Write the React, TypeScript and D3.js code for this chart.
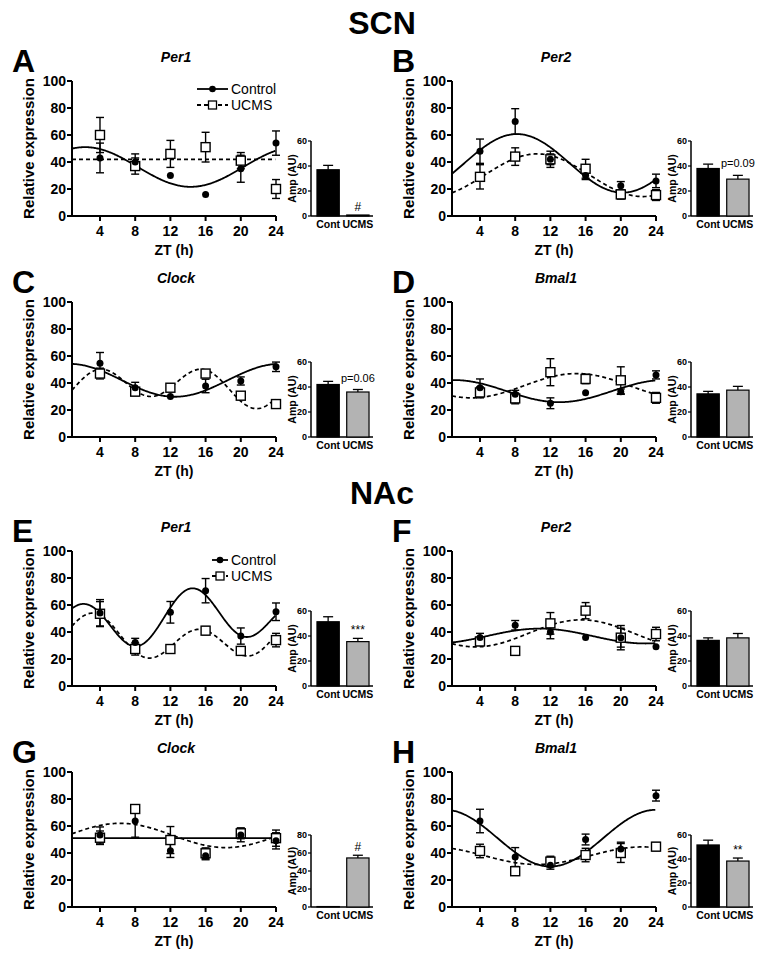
import React from 'react';
import * as d3 from 'd3';

// ---------- data ----------
const ZT = [4, 8, 12, 16, 20, 24];
const X_TICKS = [4, 8, 12, 16, 20, 24];
const Y_TICKS = [0, 20, 40, 60, 80, 100];
const GROUPS = ['Cont', 'UCMS'];
const SECTIONS = ['SCN', 'NAc'];
const LETTERS = ['A', 'B', 'C', 'D', 'E', 'F', 'G', 'H'];
const GENES = ['Per1', 'Per2', 'Clock', 'Bmal1', 'Per1', 'Per2', 'Clock', 'Bmal1'];

// fit params: [mesor, amp24, peak24, amp12, peak12]
const aCtl = [43, 40, 30, 16, 35, 54];
const aCtlErr = [11, 6, 0, 0, 10, 9];
const aUcms = [60, 37, 46, 51, 41, 20];
const aUcmsErr = [13, 6, 10, 11, 6, 7];
const aCtlFit = [36.3, 14.7, 2.3, 0, 0];
const aUcmsFit = [42, 0, 0, 0, 0];
const aAmp = [37, 0.8];
const aAmpErr = [3.5, 0];

const bCtl = [48, 70, 42, 30, 22.5, 26];
const bCtlErr = [9, 9.5, 6, 3, 3, 5];
const bUcms = [29, 44, 42, 35, 16, 15.5];
const bUcmsErr = [9, 6.5, 4, 7, 3.5, 4];
const bCtlFit = [39, 21.7, 8.2, 0, 0];
const bUcmsFit = [30.2, 15.8, 10.5, 0, 0];
const bAmp = [38, 29.5];
const bAmpErr = [3.5, 3];

const cCtl = [54.6, 36.5, 30, 37.8, 41.5, 52];
const cCtlErr = [8, 4, 0, 5, 3, 3.5];
const cUcms = [47, 33.6, 36.5, 47, 30.6, 24.4];
const cUcmsErr = [4, 3, 2.5, 2.5, 2, 3];
const cCtlFit = [42, 12.2, 0.5, 0, 0];
const cUcmsFit = [37.75, 4.5, 9.8, 12.25, 3.8];
const cAmp = [42, 36];
const cAmpErr = [2.5, 2];

const dCtl = [36.5, 31.6, 25, 32.8, 33.6, 46];
const dCtlErr = [6.5, 3, 4, 0, 2, 3];
const dUcms = [33, 28.6, 48, 43, 42, 29];
const dUcmsErr = [4, 4, 10, 3.5, 10, 4];
const dCtlFit = [34, 8.2, 1, 0, 0];
const dUcmsFit = [38, 9, 15, 0, 0];
const dAmp = [34.5, 37.5];
const dAmpErr = [2, 3];

const eCtl = [54, 32.3, 54.6, 70.6, 37, 55];
const eCtlErr = [10, 3, 8, 9, 6, 6.5];
const eUcms = [53.5, 27.4, 27.4, 41, 26, 34];
const eUcmsErr = [9, 4.5, 2, 3, 1.5, 5];
const eCtlFit = [49.8, 6.75, 16.4, 16.7, 2.35];
const eUcmsFit = [34.9, 6.05, 2.7, 13.1, 3.2];
const eAmp = [51.4, 35.5];
const eAmpErr = [4, 2.6];

const fCtl = [36, 45, 40, 36, 35.8, 29];
const fCtlErr = [3, 3.5, 5, 0, 9, 0];
const fUcms = [33, 26, 46.4, 55.8, 35.8, 38.5];
const fUcmsErr = [3, 2, 8, 6, 7, 5];
const fCtlFit = [37, 5.5, 10.8, 0, 0];
const fUcmsFit = [39, 10, 15.5, 0, 0];
const fAmp = [36.5, 38.5];
const fAmpErr = [2, 3.5];

const gCtl = [53.3, 63.7, 41.7, 38, 53.3, 49];
const gCtlErr = [6, 12, 5, 3, 5, 6];
const gUcms = [51.3, 72.6, 49.6, 39.8, 54.6, 51];
const gUcmsErr = [5, 3, 10, 4, 4, 6];
const gCtlFit = [51, 0, 0, 0, 0];
const gUcmsFit = [53, 9, 6.3, 0, 0];
const gAmp = [0.5, 54.5];
const gAmpErr = [0, 3];

const hCtl = [63.7, 37, 31, 50, 43, 82.5];
const hCtlErr = [8.7, 7, 3, 4, 5, 4];
const hUcms = [41.5, 26.5, 33.6, 38.5, 40, 44.7];
const hUcmsErr = [5, 2, 4, 5, 7, 3];
const hCtlFit = [51, 21, 0, 0, 0];
const hUcmsFit = [38, 6.5, 22.5, 0, 0];
const hAmp = [51.7, 38.3];
const hAmpErr = [4, 2.5];

const NOTES = ['#', 'p=0.09', 'p=0.06', '', '***', '', '#', '**'];
const BAR_MAX = [60, 60, 60, 60, 60, 60, 80, 60];
const BAR_TICK_STEP = 20;

const PANELS = [
  { ctl: aCtl, ctlErr: aCtlErr, ucms: aUcms, ucmsErr: aUcmsErr, ctlFit: aCtlFit, ucmsFit: aUcmsFit, amp: aAmp, ampErr: aAmpErr },
  { ctl: bCtl, ctlErr: bCtlErr, ucms: bUcms, ucmsErr: bUcmsErr, ctlFit: bCtlFit, ucmsFit: bUcmsFit, amp: bAmp, ampErr: bAmpErr },
  { ctl: cCtl, ctlErr: cCtlErr, ucms: cUcms, ucmsErr: cUcmsErr, ctlFit: cCtlFit, ucmsFit: cUcmsFit, amp: cAmp, ampErr: cAmpErr },
  { ctl: dCtl, ctlErr: dCtlErr, ucms: dUcms, ucmsErr: dUcmsErr, ctlFit: dCtlFit, ucmsFit: dUcmsFit, amp: dAmp, ampErr: dAmpErr },
  { ctl: eCtl, ctlErr: eCtlErr, ucms: eUcms, ucmsErr: eUcmsErr, ctlFit: eCtlFit, ucmsFit: eUcmsFit, amp: eAmp, ampErr: eAmpErr },
  { ctl: fCtl, ctlErr: fCtlErr, ucms: fUcms, ucmsErr: fUcmsErr, ctlFit: fCtlFit, ucmsFit: fUcmsFit, amp: fAmp, ampErr: fAmpErr },
  { ctl: gCtl, ctlErr: gCtlErr, ucms: gUcms, ucmsErr: gUcmsErr, ctlFit: gCtlFit, ucmsFit: gUcmsFit, amp: gAmp, ampErr: gAmpErr },
  { ctl: hCtl, ctlErr: hCtlErr, ucms: hUcms, ucmsErr: hUcmsErr, ctlFit: hCtlFit, ucmsFit: hUcmsFit, amp: hAmp, ampErr: hAmpErr },
];

// ---------- layout ----------
const W = 764;
const H = 963;
const COLS = [0, 380];
const ROWS = [81, 302, 551, 772];
const PLOT_H = 135;
const FONT = '"Liberation Sans", Arial, Helvetica, sans-serif';
const NARROW = '"Liberation Sans Narrow", "Arial Narrow", "Liberation Sans", Arial, sans-serif';

function fitValue(f: number[], t: number) {
  const [m, a24, p24, a12, p12] = f;
  return m + a24 * Math.cos((2 * Math.PI * (t - p24)) / 24) + a12 * Math.cos((2 * Math.PI * (t - p12)) / 12);
}

function Legend({ x0, x1, y0, gap }: { x0: number; x1: number; y0: number; gap: number }) {
  const mid = (x0 + x1) / 2;
  return (
    <g>
      <line x1={x0} x2={x1} y1={y0} y2={y0} stroke="#000" strokeWidth={1.8} />
      <circle cx={mid} cy={y0} r={3.3} fill="#000" />
      <text x={x1 + 3} y={y0 + 5} fontSize={14} fontFamily={FONT}>Control</text>
      <line x1={x0} x2={x1} y1={y0 + gap} y2={y0 + gap} stroke="#000" strokeWidth={1.8} strokeDasharray="4,3" />
      <rect x={mid - 4} y={y0 + gap - 4} width={8} height={8} fill="#fff" stroke="#000" strokeWidth={1.3} />
      <text x={x1 + 3} y={y0 + gap + 5} fontSize={14} fontFamily={FONT}>UCMS</text>
    </g>
  );
}

function Panel({ idx }: { idx: number }) {
  const p = PANELS[idx];
  const ox = COLS[idx % 2];
  const oy = ROWS[Math.floor(idx / 2)];
  const base = oy + PLOT_H;
  const x = d3.scaleLinear().domain([0.82, 24]).range([ox + 72, ox + 276]);
  const y = d3.scaleLinear().domain([0, 100]).range([base, oy]);
  const ts = d3.range(0.82, 24.0001, 0.1);
  const mkLine = (f: number[]) =>
    d3.line<number>().x((t) => x(t)).y((t) => y(fitValue(f, t))).curve(d3.curveLinear)(ts) || '';

  const barH = idx >= 6 ? 72 : 75;
  const bMax = BAR_MAX[idx];
  const by = d3.scaleLinear().domain([0, bMax]).range([base, base - barH]);
  const bx = d3.scaleBand<string>().domain(GROUPS).range([ox + 314, ox + 372]).paddingInner(0.25).paddingOuter(0.1);
  const barTicks = d3.range(0, bMax + 0.01, BAR_TICK_STEP);
  const axX = ox + 311;

  const errBar = (cx: number, v: number, e: number, key: string) =>
    e > 0 ? (
      <g key={key} stroke="#000" strokeWidth={1.4}>
        <line x1={cx} x2={cx} y1={y(v - e)} y2={y(v + e)} />
        <line x1={cx - 4} x2={cx + 4} y1={y(v + e)} y2={y(v + e)} />
        <line x1={cx - 4} x2={cx + 4} y1={y(v - e)} y2={y(v - e)} />
      </g>
    ) : null;

  const noteIdx = idx === 0 || idx === 6 || idx >= 1 ? 1 : 1;
  const note = NOTES[idx];
  const noteX = (bx(GROUPS[noteIdx]) as number) + bx.bandwidth() / 2;
  const noteY = by(p.amp[noteIdx] + p.ampErr[noteIdx]) - (note.startsWith('p') ? 8 : 4);

  return (
    <g>
      {/* letter and gene title */}
      <text x={ox + 12} y={oy - 9} fontSize={32} fontWeight="bold" fontFamily={NARROW}>{LETTERS[idx]}</text>
      <text x={ox + 176} y={oy - 19} fontSize={14} fontWeight="bold" fontStyle="italic" textAnchor="middle" fontFamily={FONT}>{GENES[idx]}</text>

      {/* y axis */}
      <line x1={ox + 72} x2={ox + 72} y1={base} y2={oy} stroke="#000" strokeWidth={2} />
      {Y_TICKS.map((t) => (
        <g key={'yt' + t}>
          <line x1={ox + 67} x2={ox + 72} y1={y(t)} y2={y(t)} stroke="#000" strokeWidth={2} />
          <text x={ox + 66} y={y(t) + 5} fontSize={14} fontWeight="bold" textAnchor="end" fontFamily={FONT}>{t}</text>
        </g>
      ))}
      <text transform={`translate(${ox + 34},${oy + PLOT_H / 2}) rotate(-90)`} fontSize={15} fontWeight="bold" textAnchor="middle" fontFamily={FONT}>Relative expression</text>

      {/* x axis */}
      <line x1={ox + 72} x2={x(24)} y1={base} y2={base} stroke="#000" strokeWidth={2} />
      {X_TICKS.map((t) => (
        <g key={'xt' + t}>
          <line x1={x(t)} x2={x(t)} y1={base} y2={base + 5} stroke="#000" strokeWidth={2} />
          <text x={x(t)} y={base + 20} fontSize={14} fontWeight="bold" textAnchor="middle" fontFamily={FONT}>{t}</text>
        </g>
      ))}
      <text x={ox + 174} y={base + 39} fontSize={14} fontWeight="bold" textAnchor="middle" fontFamily={FONT}>ZT (h)</text>

      {/* fit curves */}
      <path d={mkLine(p.ucmsFit)} fill="none" stroke="#000" strokeWidth={1.7} strokeDasharray="4,3" />
      <path d={mkLine(p.ctlFit)} fill="none" stroke="#000" strokeWidth={1.8} />

      {/* error bars */}
      {ZT.map((t, i) => errBar(x(t), p.ucms[i], p.ucmsErr[i], 'ue' + i))}
      {ZT.map((t, i) => errBar(x(t), p.ctl[i], p.ctlErr[i], 'ce' + i))}

      {/* markers */}
      {ZT.map((t, i) => (
        <rect key={'us' + i} x={x(t) - 4.5} y={y(p.ucms[i]) - 4.5} width={9} height={9} fill="#fff" stroke="#000" strokeWidth={1.4} />
      ))}
      {ZT.map((t, i) => (
        <circle key={'cs' + i} cx={x(t)} cy={y(p.ctl[i])} r={3.5} fill="#000" />
      ))}

      {/* bar chart */}
      <line x1={axX} x2={axX} y1={base} y2={base - barH} stroke="#000" strokeWidth={1.5} />
      <line x1={axX} x2={ox + 373} y1={base} y2={base} stroke="#000" strokeWidth={1.5} />
      {barTicks.map((t) => (
        <g key={'bt' + t}>
          <line x1={axX - 3} x2={axX} y1={by(t)} y2={by(t)} stroke="#000" strokeWidth={1.2} />
          <text x={axX - 4} y={by(t) + 3} fontSize={9} fontWeight="bold" textAnchor="end" fontFamily={FONT}>{t}</text>
        </g>
      ))}
      <text transform={`translate(${ox + 296},${base - barH / 2}) rotate(-90)`} fontSize={10.5} fontWeight="bold" textAnchor="middle" fontFamily={FONT}>Amp (AU)</text>
      {GROUPS.map((g, i) => {
        const bx0 = bx(g) as number;
        const bw = bx.bandwidth();
        const v = p.amp[i];
        const e = p.ampErr[i];
        const cx = bx0 + bw / 2;
        return (
          <g key={'bar' + g}>
            {e > 0 && (
              <g stroke="#000" strokeWidth={1.3}>
                <line x1={cx} x2={cx} y1={by(v)} y2={by(v + e)} />
                <line x1={cx - 5} x2={cx + 5} y1={by(v + e)} y2={by(v + e)} />
              </g>
            )}
            <rect x={bx0} y={by(v)} width={bw} height={base - by(v)} fill={i === 0 ? '#000' : '#b3b3b3'} stroke="#000" strokeWidth={1.2} />
            <text x={cx} y={base + 12} fontSize={10.5} fontWeight="bold" textAnchor="middle" fontFamily={FONT}>{g}</text>
          </g>
        );
      })}
      {note && (
        <text x={noteX} y={noteY} fontSize={note.startsWith('p') ? 11 : 12} textAnchor="middle" fontFamily={FONT}>{note}</text>
      )}

      {idx === 0 && <Legend x0={ox + 197} x1={ox + 228} y0={oy + 8} gap={16} />}
      {idx === 4 && <Legend x0={ox + 212} x1={ox + 228} y0={oy + 9} gap={16} />}
    </g>
  );
}

export default function App() {
  return (
    <svg width={W} height={H} style={{ display: 'block', position: 'absolute', left: 0, top: 0, background: '#fff' }}>
      <rect width={W} height={H} fill="#fff" />
      <text x={382} y={34} fontSize={32} fontWeight="bold" textAnchor="middle" fontFamily={NARROW}>{SECTIONS[0]}</text>
      <text x={382} y={504} fontSize={32} fontWeight="bold" textAnchor="middle" fontFamily={NARROW}>{SECTIONS[1]}</text>
      {PANELS.map((_, i) => (
        <Panel key={i} idx={i} />
      ))}
    </svg>
  );
}
